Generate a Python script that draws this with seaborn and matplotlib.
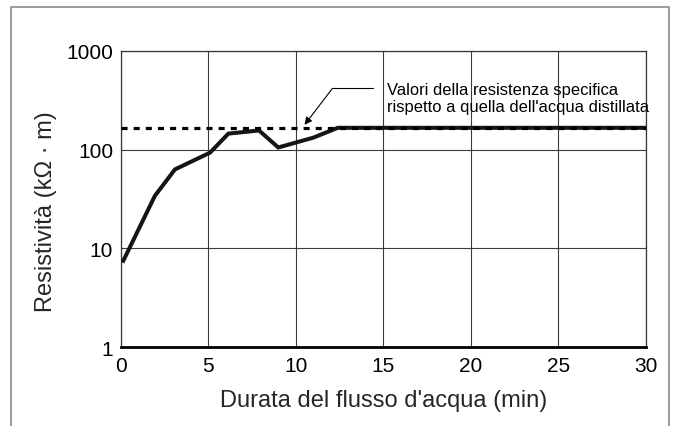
import matplotlib
matplotlib.use("Agg")
import matplotlib.pyplot as plt
from matplotlib.lines import Line2D
from matplotlib import font_manager
import seaborn as sns
import pandas as pd

# ---- data ----
time_min = [0.1, 1.95, 3.1, 5.1, 6.15, 7.9, 9.0, 11.0, 12.4, 30.0]
resistivity = [7.2, 34, 63, 93, 145, 156, 105, 132, 166, 166]
ref_time = [0.0, 30.0]
ref_value = [167, 167]
x_ticks = [0, 5, 10, 15, 20, 25, 30]
y_ticks = [1, 10, 100, 1000]
y_tick_labels = ["1", "10", "100", "1000"]
x_label = "Durata del flusso d'acqua (min)"
y_label = "Resistività (kΩ · m)"
note = "Valori della resistenza specifica\nrispetto a quella dell'acqua distillata"

df = pd.DataFrame({"t": time_min, "r": resistivity})
df_ref = pd.DataFrame({"t": ref_time, "r": ref_value})

sns.set_style("white")
plt.rcParams["font.family"] = ["Liberation Sans", "DejaVu Sans"]

def has_font(name):
    try:
        font_manager.findfont(name, fallback_to_default=False)
        return True
    except Exception:
        return False

narrow = has_font("Liberation Sans Narrow")

fig = plt.figure(figsize=(6.75, 4.27), dpi=100)
ax = fig.add_axes([120.7 / 675, 1 - 348.3 / 427, (646 - 120.7) / 675, (348.3 - 51.7) / 427])

sns.lineplot(data=df, x="t", y="r", ax=ax, color="#151515", lw=2.9,
             solid_joinstyle="miter", solid_capstyle="butt", zorder=3)
sns.lineplot(data=df_ref, x="t", y="r", ax=ax, color="black", lw=2.3,
             dashes=False, zorder=4)
ax.lines[-1].set_linestyle((0, (1.9, 1.9)))
ax.lines[-1].set_dash_capstyle("butt")

ax.set_yscale("log")
ax.set_xlim(0, 30)
ax.set_ylim(1, 1000)
ax.set_xticks(x_ticks)
ax.set_yticks(y_ticks)
ax.set_yticklabels(y_tick_labels)
ax.minorticks_off()
ax.tick_params(axis="both", length=0, labelsize=15, colors="black")
ax.tick_params(axis="y", pad=5.5)
ax.tick_params(axis="x", pad=6)

ax.grid(True, which="major", color="#3a3a3a", lw=0.8)
for side in ["top", "right", "left"]:
    ax.spines[side].set_color("#333333")
    ax.spines[side].set_linewidth(0.9)
ax.spines["bottom"].set_color("black")
ax.spines["bottom"].set_linewidth(2.0)
ax.spines["bottom"].set_zorder(5)

ax.set_xlabel(x_label, fontsize=17, labelpad=10)
ax.set_ylabel(y_label, fontsize=17)
ax.yaxis.set_label_coords(-0.122, 0.46)

# annotation
if narrow:
    nfam, nsize = ["Liberation Sans Narrow", "Liberation Sans"], 14.5
else:
    nfam, nsize = ["Liberation Sans"], 11.9
ax.text(0.5075, 0.893, note, transform=ax.transAxes, ha="left", va="top",
        family=nfam, fontsize=nsize, linespacing=1.14, color="black", zorder=6)
ax.plot([14.4, 12.1], [417, 417], color="black", lw=0.8, zorder=6)
ax.annotate("", xy=(10.5, 178), xytext=(12.1, 417),
            arrowprops=dict(arrowstyle="-|>", mutation_scale=11, lw=0.8,
                            color="black", shrinkA=0, shrinkB=0), zorder=6)

# outer frame (open at bottom)
L, R, T = 11 / 675, 669 / 675, 1 - 7.5 / 427
fig.add_artist(Line2D([L, L, R, R], [-0.01, T, T, -0.01], transform=fig.transFigure,
                      color="#8a8a8a", lw=1.2))

fig.savefig("out.png", dpi=100)
